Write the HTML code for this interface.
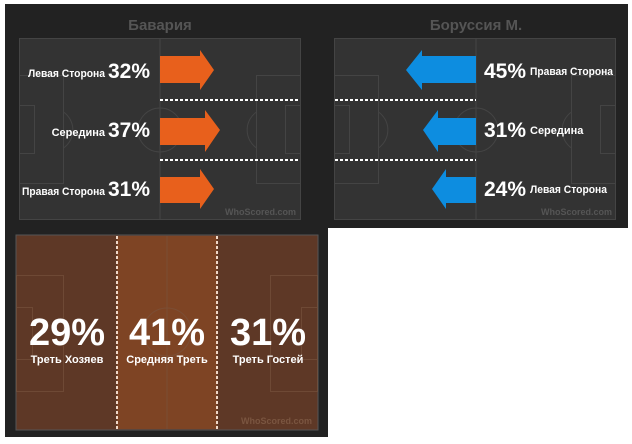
<!DOCTYPE html>
<html><head><meta charset="utf-8"><style>
html,body{margin:0;padding:0;background:#fff;}
svg{display:block;}
text{font-family:"Liberation Sans",Arial,sans-serif;font-weight:bold;}
</style></head><body>
<svg width="632" height="444" viewBox="0 0 632 444" xmlns="http://www.w3.org/2000/svg">
<rect x="0" y="0" width="632" height="444" fill="#fff"/>
<rect x="5" y="4" width="623" height="224" fill="#222"/>
<rect x="5" y="228" width="323" height="209" fill="#222"/>

<!-- left pitch -->
<g stroke="#444" stroke-width="1" fill="none">
<rect x="19.5" y="38.5" width="281" height="181" fill="#333"/>
<line x1="160" y1="39" x2="160" y2="219"/>
<circle cx="160" cy="130" r="22"/>
<rect x="19.5" y="75.5" width="44" height="108"/>
<rect x="19.5" y="105.5" width="15" height="48"/>
<rect x="256.5" y="75.5" width="44" height="108"/>
<rect x="285.5" y="105.5" width="15" height="48"/>
<path d="M63.5 112 A22 22 0 0 1 63.5 148"/>
<path d="M256.5 112 A22 22 0 0 0 256.5 148"/>
</g>
<text x="160" y="30" font-size="15" fill="#555" text-anchor="middle">Бавария</text>
<g stroke="#fff" stroke-width="2" stroke-dasharray="3,2">
<line x1="160" y1="100" x2="300" y2="100"/>
<line x1="160" y1="160" x2="300" y2="160"/>
</g>
<g fill="#e8601c">
<polygon points="160,56 200,56 200,50 214,70 200,90 200,83 160,83"/>
<polygon points="160,118 205,118 205,110 220,130 205,152 205,145 160,145"/>
<polygon points="160,177 200,177 200,169 214,189 200,209 200,203 160,203"/>
</g>
<g fill="#fff">
<text x="28" y="77" font-size="11" textLength="77" lengthAdjust="spacingAndGlyphs">Левая Сторона</text>
<text x="108" y="78" font-size="21">32%</text>
<text x="105" y="136" font-size="11" text-anchor="end">Середина</text>
<text x="108" y="137" font-size="21">37%</text>
<text x="22" y="195" font-size="11" textLength="83" lengthAdjust="spacingAndGlyphs">Правая Сторона</text>
<text x="108" y="196" font-size="21">31%</text>
</g>
<text x="296" y="215" font-size="9" fill="#555" text-anchor="end" font-weight="normal">WhoScored.com</text>

<!-- right pitch -->
<g stroke="#444" stroke-width="1" fill="none">
<rect x="334.5" y="38.5" width="281" height="181" fill="#333"/>
<line x1="476" y1="39" x2="476" y2="219"/>
<circle cx="476" cy="130" r="22"/>
<rect x="334.5" y="75.5" width="44" height="108"/>
<rect x="334.5" y="105.5" width="15" height="48"/>
<rect x="571.5" y="75.5" width="44" height="108"/>
<rect x="600.5" y="105.5" width="15" height="48"/>
<path d="M378.5 112 A22 22 0 0 1 378.5 148"/>
<path d="M571.5 112 A22 22 0 0 0 571.5 148"/>
</g>
<text x="476" y="30" font-size="15" fill="#555" text-anchor="middle">Боруссия М.</text>
<g stroke="#fff" stroke-width="2" stroke-dasharray="3,2">
<line x1="335" y1="100" x2="476" y2="100"/>
<line x1="335" y1="160" x2="476" y2="160"/>
</g>
<g fill="#0d8de0">
<polygon points="476,56 422,56 422,50 406,70 422,90 422,83 476,83"/>
<polygon points="476,118 438,118 438,110 423,130 438,152 438,145 476,145"/>
<polygon points="476,177 446,177 446,169 432,189 446,209 446,203 476,203"/>
</g>
<g fill="#fff">
<text x="484" y="78" font-size="21">45%</text>
<text x="530" y="75" font-size="11" textLength="83" lengthAdjust="spacingAndGlyphs">Правая Сторона</text>
<text x="484" y="137" font-size="21">31%</text>
<text x="530" y="134" font-size="11">Середина</text>
<text x="484" y="196" font-size="21">24%</text>
<text x="530" y="193" font-size="11" textLength="77" lengthAdjust="spacingAndGlyphs">Левая Сторона</text>
</g>
<text x="612" y="215" font-size="9" fill="#555" text-anchor="end" font-weight="normal">WhoScored.com</text>

<!-- bottom pitch -->
<rect x="16" y="235" width="302" height="195" fill="#5e3826" stroke="#555" stroke-width="1"/>
<rect x="117" y="236" width="100" height="193" fill="#7e4424"/>
<g stroke="#7a5540" stroke-width="1" fill="none" opacity="0.6">
<line x1="167" y1="236" x2="167" y2="429"/>
<circle cx="167" cy="332" r="24"/>
<rect x="16.5" y="275.5" width="47" height="116"/>
<rect x="16.5" y="307.5" width="16" height="52"/>
<rect x="270.5" y="275.5" width="47" height="116"/>
<rect x="301.5" y="307.5" width="16" height="52"/>
</g>
<g stroke="#f0d8c8" stroke-width="2" stroke-dasharray="3,2">
<line x1="117" y1="236" x2="117" y2="430"/>
<line x1="217" y1="236" x2="217" y2="430"/>
</g>
<g fill="#fff" text-anchor="middle">
<text x="67" y="345" font-size="38">29%</text>
<text x="67" y="363" font-size="11">Треть Хозяев</text>
<text x="167" y="345" font-size="38">41%</text>
<text x="167" y="363" font-size="11">Средняя Треть</text>
<text x="268" y="345" font-size="38">31%</text>
<text x="268" y="363" font-size="11">Треть Гостей</text>
</g>
<text x="312" y="424" font-size="9" fill="#7a5540" text-anchor="end" font-weight="normal">WhoScored.com</text>
</svg>
</body></html>
